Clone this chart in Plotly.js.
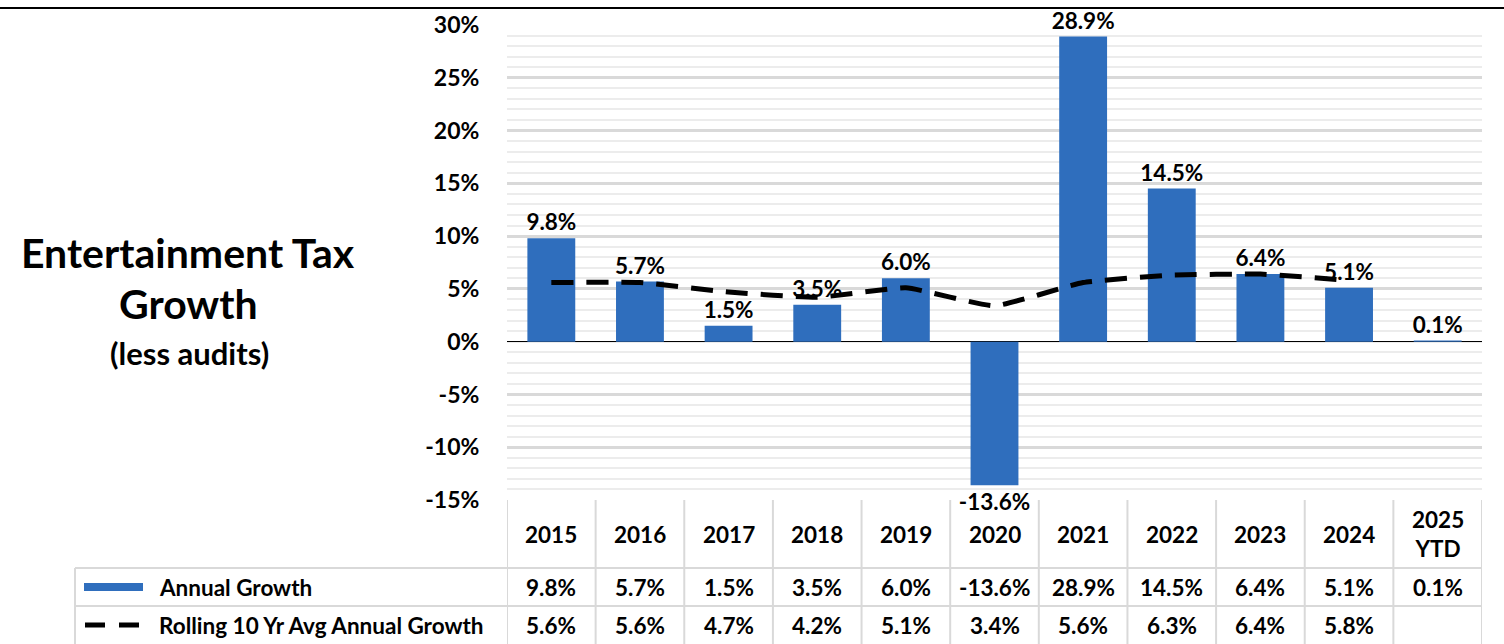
<!DOCTYPE html>
<html>
<head>
<meta charset="utf-8">
<script src="https://cdn.plot.ly/plotly-3.0.1.min.js"></script>
<style>
html,body{margin:0;padding:0;background:#fff;}
#chart{width:1504px;height:644px;}
</style>
</head>
<body>
<div id="chart"></div>
<script>
const years = ['2015','2016','2017','2018','2019','2020','2021','2022','2023','2024','2025<br>YTD'];
const annualGrowth = [9.8, 5.7, 1.5, 3.5, 6.0, -13.6, 28.9, 14.5, 6.4, 5.1, 0.1];
const rollingAvg = [5.6, 5.6, 4.7, 4.2, 5.1, 3.4, 5.6, 6.3, 6.4, 5.8, null];
const seriesNames = ['Annual Growth', 'Rolling 10 Yr Avg Annual Growth'];
const yTicks = [30, 25, 20, 15, 10, 5, 0, -5, -10, -15];
const titleLines = ['Entertainment Tax', 'Growth', '(less audits)'];

const FONT = 'Lato, "Open Sans", sans-serif';
const BLUE = '#2f6ebd';
const GRID = '#d9d9d9';
const SMALL = 22.5;
const idx = years.map((_, i) => i);
const fmt = v => (v === null ? '' : v.toFixed(1) + '%');

// pixel helpers (plot area: x 507..1482, y 25..500)
const L = 507, W = 975, T = 25, H = 475;
const px = x => (x - L) / W;
const py = y => (T + H - y) / H;

const traces = [
  {
    type: 'bar', x: idx, y: annualGrowth, name: seriesNames[0],
    marker: {color: BLUE}, width: 0.54,
    text: annualGrowth.map(fmt), textposition: 'outside', cliponaxis: false,
    constraintext: 'none',
    textfont: {family: FONT, size: SMALL, color: '#000', weight: 700},
    hoverinfo: 'skip'
  },
  {
    type: 'scatter', mode: 'lines', x: idx, y: rollingAvg, name: seriesNames[1],
    line: {color: '#000', width: 5, dash: '22px,13px', shape: 'spline', smoothing: 0.4},
    hoverinfo: 'skip'
  }
];

const shapes = [];
const annotations = [];

// top border line
shapes.push({type: 'line', xref: 'paper', yref: 'paper', x0: px(0), x1: px(1504), y0: py(8), y1: py(8),
  line: {color: '#000', width: 2}});

// table vertical lines
for (let k = 0; k <= years.length; k++) {
  const x = k - 0.5;
  shapes.push({type: 'line', xref: 'x', yref: 'paper', x0: x, x1: x, y0: py(500), y1: py(644),
    line: {color: GRID, width: 2}});
}
// left border for row labels
shapes.push({type: 'line', xref: 'paper', yref: 'paper', x0: px(75), x1: px(75), y0: py(568), y1: py(644),
  line: {color: GRID, width: 2}});
// horizontal table lines
[568, 606].forEach(y => {
  shapes.push({type: 'line', xref: 'paper', yref: 'paper', x0: px(75), x1: px(1482), y0: py(y), y1: py(y),
    line: {color: GRID, width: 2}});
});

// legend keys
shapes.push({type: 'rect', xref: 'paper', yref: 'paper', x0: px(84), x1: px(143), y0: py(583), y1: py(591),
  fillcolor: BLUE, line: {width: 0}});
shapes.push({type: 'line', xref: 'paper', yref: 'paper', x0: px(85), x1: px(140), y0: py(625), y1: py(625),
  line: {color: '#000', width: 5, dash: '20px,14px'}});

// header years and table values
years.forEach((yr, i) => {
  annotations.push({xref: 'x', yref: 'paper', x: i, y: py(534), text: yr, showarrow: false,
    font: {family: FONT, size: SMALL, color: '#000', weight: 700}, xanchor: 'center', yanchor: 'middle'});
  annotations.push({xref: 'x', yref: 'paper', x: i, y: py(587), text: fmt(annualGrowth[i]), showarrow: false,
    font: {family: FONT, size: SMALL, color: '#000', weight: 700}, xanchor: 'center', yanchor: 'middle'});
  annotations.push({xref: 'x', yref: 'paper', x: i, y: py(625), text: fmt(rollingAvg[i]), showarrow: false,
    font: {family: FONT, size: SMALL, color: '#000', weight: 700}, xanchor: 'center', yanchor: 'middle'});
});
// row labels
annotations.push({xref: 'paper', yref: 'paper', x: px(157), y: py(587), text: seriesNames[0], showarrow: false,
  font: {family: FONT, size: SMALL, color: '#000', weight: 700}, xanchor: 'left', yanchor: 'middle'});
annotations.push({xref: 'paper', yref: 'paper', x: px(157), y: py(625), text: seriesNames[1], showarrow: false,
  font: {family: FONT, size: SMALL, color: '#000', weight: 700}, xanchor: 'left', yanchor: 'middle'});

// title
annotations.push({xref: 'paper', yref: 'paper', x: px(188), y: py(252), text: titleLines[0], showarrow: false,
  font: {family: FONT, size: 41, color: '#000', weight: 700}, xanchor: 'center', yanchor: 'middle'});
annotations.push({xref: 'paper', yref: 'paper', x: px(188), y: py(303), text: titleLines[1], showarrow: false,
  font: {family: FONT, size: 41, color: '#000', weight: 700}, xanchor: 'center', yanchor: 'middle'});
annotations.push({xref: 'paper', yref: 'paper', x: px(189), y: py(353), text: titleLines[2], showarrow: false,
  font: {family: FONT, size: 31, color: '#000', weight: 700}, xanchor: 'center', yanchor: 'middle'});

const layout = {
  width: 1504, height: 644,
  margin: {l: L, r: 1504 - L - W, t: T, b: 644 - T - H},
  paper_bgcolor: '#fff', plot_bgcolor: '#fff',
  showlegend: false,
  bargap: 0.46,
  xaxis: {range: [-0.5, years.length - 0.5], showticklabels: false, showgrid: false, zeroline: false,
    showline: false, ticks: ''},
  yaxis: {range: [-15, 30], tickmode: 'array', tickvals: yTicks, ticktext: yTicks.map(v => v + '%'),
    showgrid: true, gridcolor: GRID, gridwidth: 3,
    minor: {dtick: 1, showgrid: true, gridcolor: '#ececec', gridwidth: 2},
    zeroline: true, zerolinecolor: '#000', zerolinewidth: 1.5,
    ticks: 'outside', ticklen: 22, tickcolor: 'rgba(0,0,0,0)',
    tickfont: {family: FONT, size: 23, color: '#000', weight: 700}, showline: false},
  shapes: shapes,
  annotations: annotations
};

Plotly.newPlot('chart', traces, layout, {staticPlot: true, displayModeBar: false});
</script>
</body>
</html>
